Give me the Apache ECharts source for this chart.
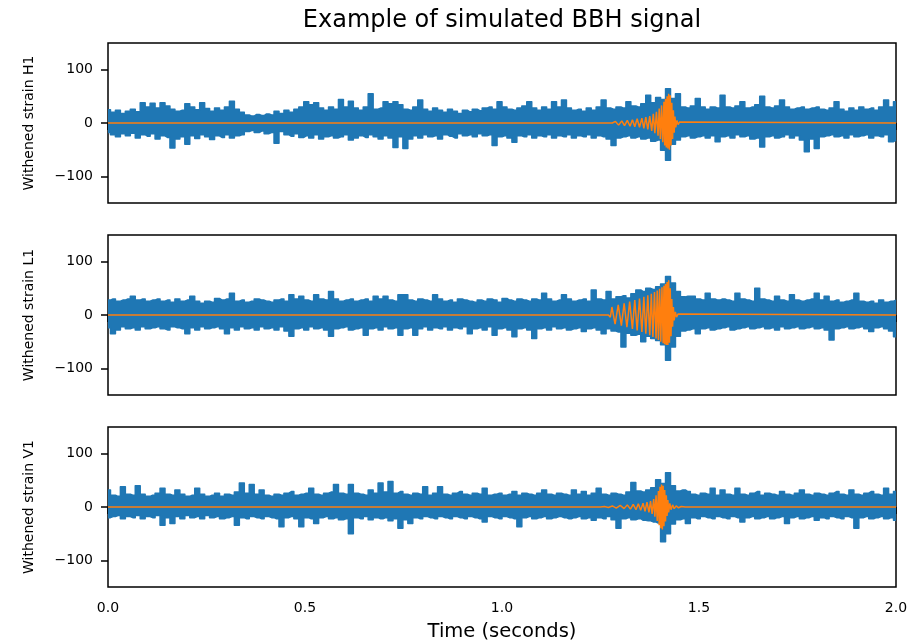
<!DOCTYPE html>
<html><head><meta charset="utf-8">
<script src="https://cdn.jsdelivr.net/npm/echarts@6/dist/echarts.min.js"></script>
<style>html,body{margin:0;padding:0;background:#fff}#c{width:918px;height:640px}</style>
</head><body><div id="c"></div>
<script>
// Detector names
const detectors = ['H1', 'L1', 'V1'];
// X tick values (seconds)
const xTicks = [0, 0.5, 1.0, 1.5, 2.0];
// Y tick values
const yTicks = [-100, 0, 100];

// Whitened strain (blue): per time bin, upper and lower excursion (alternating), bins evenly spaced over 0..2 s
const noiseH1 = [
25,-18, 20,-22, 24,-26, 18,-20, 22,-24, 26,-19, 21,-28, 38,-22, 30,-25, 37,-20,
28,-30, 38,-24, 32,-27, 26,-47, 22,-30, 24,-26, 36,-40, 30,-24, 25,-29, 38,-22,
27,-26, 22,-31, 28,-24, 24,-27, 30,-22, 41,-28, 26,-24, 20,-22, 15,-16, 13,-14,
16,-18, 14,-15, 17,-20, 15,-18, 22,-38, 18,-16, 24,-22, 20,-25, 26,-20, 30,-27,
40,-24, 34,-28, 38,-22, 28,-30, 24,-26, 30,-24, 26,-28, 44,-26, 30,-22, 41,-32,
28,-28, 24,-24, 30,-27, 55,-22, 26,-26, 28,-30, 40,-24, 36,-28, 40,-46, 34,-26,
26,-48, 24,-30, 30,-24, 43,-28, 26,-22, 22,-26, 28,-24, 24,-30, 20,-22, 26,-25,
22,-28, 18,-20, 24,-24, 21,-22, 26,-26, 23,-20, 28,-24, 30,-22, 26,-42, 40,-26,
30,-24, 26,-28, 24,-36, 28,-24, 32,-26, 40,-22, 28,-28, 24,-24, 30,-26, 26,-22,
40,-28, 30,-24, 43,-26, 28,-22, 24,-28, 26,-24, 22,-26, 28,-22, 24,-28, 30,-24,
43,-26, 28,-30, 26,-42, 30,-28, 28,-26, 40,-24, 32,-28, 30,-26, 36,-30, 52,-28,
38,-34, 48,-32, 44,-51, 64,-70, 46,-40, 55,-32, 30,-26, 28,-24, 32,-28, 46,-26,
30,-24, 26,-28, 30,-24, 28,-35, 52,-26, 30,-24, 28,-28, 32,-22, 40,-26, 28,-24,
30,-30, 34,-28, 50,-45, 30,-26, 28,-24, 32,-28, 43,-26, 30,-22, 26,-28, 28,-24,
30,-32, 26,-54, 28,-30, 30,-48, 26,-26, 24,-24, 28,-22, 40,-26, 26,-24, 22,-28,
28,-22, 24,-26, 30,-24, 26,-22, 28,-28, 24,-24, 30,-26, 43,-22, 30,-35, 40,-32
];
const noiseL1 = [
28,-24, 30,-35, 26,-28, 28,-22, 30,-26, 35,-24, 28,-28, 30,-22, 26,-26, 28,-24,
30,-22, 26,-26, 28,-28, 24,-22, 30,-24, 26,-26, 28,-35, 35,-24, 26,-28, 22,-22,
26,-26, 24,-24, 31,-22, 28,-26, 30,-35, 41,-24, 26,-28, 28,-22, 24,-26, 26,-24,
30,-28, 28,-22, 26,-26, 24,-24, 28,-28, 30,-22, 26,-30, 38,-40, 30,-26, 35,-24,
28,-28, 26,-22, 38,-26, 30,-24, 28,-28, 44,-40, 30,-26, 26,-24, 28,-22, 30,-28,
26,-26, 28,-24, 30,-38, 26,-26, 35,-24, 30,-28, 35,-22, 28,-26, 26,-24, 38,-38,
38,-26, 28,-24, 26,-38, 30,-26, 28,-22, 26,-28, 38,-24, 30,-26, 26,-22, 28,-28,
24,-24, 30,-26, 28,-22, 26,-35, 24,-26, 28,-24, 26,-28, 30,-22, 28,-38, 24,-26,
31,-24, 28,-28, 26,-41, 30,-26, 28,-24, 26,-28, 30,-44, 28,-26, 41,-24, 30,-28,
26,-22, 28,-26, 38,-24, 30,-28, 26,-26, 28,-24, 30,-31, 26,-26, 47,-24, 30,-28,
28,-35, 44,-26, 30,-30, 34,-32, 36,-60, 32,-34, 40,-38, 47,-36, 44,-50, 50,-40,
48,-44, 53,-48, 58,-56, 72,-85, 60,-60, 44,-40, 34,-30, 35,-28, 35,-26, 30,-35,
28,-26, 41,-24, 30,-28, 28,-26, 30,-24, 28,-22, 26,-28, 41,-26, 30,-24, 28,-22,
26,-26, 50,-24, 30,-22, 28,-26, 26,-24, 35,-28, 28,-22, 26,-26, 38,-24, 28,-22,
26,-26, 28,-24, 30,-22, 41,-26, 28,-24, 35,-28, 26,-47, 28,-26, 24,-24, 26,-22,
28,-26, 41,-24, 26,-22, 24,-26, 26,-31, 22,-24, 28,-22, 24,-26, 26,-30, 28,-41
];
const noiseV1 = [
32,-20, 22,-18, 20,-16, 38,-22, 24,-18, 22,-20, 40,-16, 24,-22, 20,-18, 22,-20,
26,-16, 35,-34, 24,-20, 22,-31, 32,-18, 24,-22, 20,-16, 22,-20, 35,-18, 24,-22,
20,-16, 22,-20, 26,-18, 20,-22, 24,-20, 22,-18, 28,-34, 45,-20, 26,-22, 42,-18,
24,-20, 32,-22, 22,-18, 20,-20, 24,-22, 22,-37, 26,-20, 29,-18, 22,-22, 24,-37,
26,-20, 35,-22, 24,-31, 22,-20, 26,-18, 28,-22, 42,-20, 26,-24, 24,-22, 42,-50,
26,-20, 24,-22, 22,-18, 32,-24, 26,-20, 45,-22, 28,-20, 48,-26, 26,-22, 29,-40,
24,-24, 22,-31, 26,-20, 24,-22, 38,-18, 22,-20, 26,-22, 38,-18, 24,-20, 22,-22,
26,-18, 29,-20, 24,-22, 22,-18, 26,-20, 24,-22, 35,-28, 22,-18, 24,-20, 26,-22,
22,-18, 24,-20, 29,-22, 22,-37, 26,-20, 24,-18, 22,-22, 26,-20, 32,-18, 24,-22,
22,-20, 26,-18, 24,-20, 22,-22, 32,-20, 24,-18, 29,-22, 22,-20, 26,-25, 35,-20,
24,-22, 22,-18, 26,-24, 24,-40, 22,-22, 28,-20, 46,-24, 30,-22, 28,-25, 32,-26,
36,-28, 51,-30, 44,-65, 64,-50, 40,-32, 30,-24, 32,-22, 29,-31, 24,-20, 22,-22,
26,-18, 24,-20, 35,-22, 22,-18, 32,-20, 24,-22, 22,-18, 35,-20, 24,-28, 22,-20,
26,-18, 29,-22, 22,-20, 26,-18, 24,-22, 22,-20, 29,-18, 24,-31, 22,-20, 26,-18,
32,-22, 24,-20, 22,-18, 26,-25, 24,-20, 22,-22, 26,-18, 29,-20, 24,-22, 22,-18,
32,-20, 24,-40, 22,-20, 26,-18, 29,-22, 24,-20, 22,-18, 35,-22, 24,-20, 29,-25
];

// Simulated signal (orange): times (s) and values at each extremum
const sigTimeH1 = [0, 1.28, 1.288, 1.296, 1.304, 1.311, 1.318, 1.325, 1.331, 1.337, 1.343, 1.349,
  1.355, 1.360, 1.365, 1.370, 1.375, 1.380, 1.384, 1.388, 1.392, 1.396,
  1.399, 1.402, 1.405, 1.408, 1.411, 1.413, 1.415, 1.417, 1.419, 1.421,
  1.423, 1.425, 1.427, 1.429, 1.431, 1.433, 1.435, 1.437, 1.439, 1.441,
  1.444, 1.447, 1.451, 1.455, 2];
const sigH1 = [0, 0, 3, -4, 4, -5, 5, -6, 6, -7, 8, -8,
  9, -10, 11, -12, 13, -15, 17, -19, 21, -24,
  27, -30, 33, -36, 40, -42, 45, -46, 50, -48,
  55, -50, 52, -42, 38, -30, 24, -18, 12, -8,
  5, -3, 2, 0, 0];
const sigTimeL1 = [0, 1.27, 1.275, 1.279, 1.287, 1.295, 1.303, 1.310, 1.317, 1.324, 1.331, 1.337,
  1.343, 1.349, 1.355, 1.360, 1.365, 1.370, 1.375, 1.379, 1.383, 1.387,
  1.391, 1.394, 1.397, 1.400, 1.403, 1.406, 1.409, 1.411, 1.413, 1.415,
  1.417, 1.419, 1.421, 1.423, 1.425, 1.427, 1.429, 1.431, 1.433, 1.435,
  1.437, 1.440, 1.443, 1.447, 1.452, 2];
const sigL1 = [0, 0, -4, 15, -17, 19, -20, 22, -23, 25, -26, 28,
  -29, 31, -32, 34, -35, 37, -38, 40, -41, 43,
  -44, 46, -47, 49, -50, 52, -53, 55, -55, 58,
  -56, 62, -56, 65, -52, 50, -40, 30, -22, 15,
  -10, 6, -4, 2, 0, 0];
const sigTimeV1 = [0, 1.25, 1.26, 1.27, 1.28, 1.29, 1.30, 1.31, 1.318, 1.326, 1.333, 1.340,
  1.346, 1.352, 1.358, 1.363, 1.368, 1.373, 1.377, 1.381, 1.385, 1.388,
  1.391, 1.394, 1.397, 1.399, 1.401, 1.403, 1.405, 1.407, 1.409, 1.411,
  1.413, 1.415, 1.417, 1.419, 1.421, 1.423, 1.426, 1.429, 1.433, 1.437,
  1.442, 1.448, 1.455, 1.465, 2];
const sigV1 = [0, 0, 1, -1, 2, -2, 3, -3, 4, -4, 5, -5,
  6, -6, 7, -8, 9, -10, 11, -13, 15, -18,
  22, -26, 30, -34, 38, -40, 42, -42, 40, -36,
  32, -27, 22, -17, 13, -10, 7, -5, 4, -3,
  2, -1.5, 1, 0, 0];

const noise = [noiseH1, noiseL1, noiseV1];
const sigTimes = [sigTimeH1, sigTimeL1, sigTimeV1];
const sigs = [sigH1, sigL1, sigV1];

const BLUE = '#1f77b4', ORANGE = '#ff7f0e';
const FONT = 'DejaVu Sans';
const tops = [43, 235, 427];
const grids = tops.map(t => ({left: 108, top: t, width: 788, height: 160, show: true,
  outerBoundsMode: 'none', containLabel: false,
  borderColor: '#000', borderWidth: 1.5, backgroundColor: 'transparent'}));

const xAxes = tops.map((t, i) => ({
  type: 'value', gridIndex: i, min: 0, max: 2, interval: 0.5,
  axisLine: {show: false},
  axisTick: {show: true, length: 7, lineStyle: {color: '#000', width: 1.5}},
  axisLabel: {show: i === 2, formatter: v => v.toFixed(1), fontSize: 14, color: '#000',
    margin: 14, fontFamily: FONT},
  splitLine: {show: false},
  name: i === 2 ? 'Time (seconds)' : '',
  nameLocation: 'middle', nameGap: 35,
  nameTextStyle: {fontSize: 19.5, color: '#000', fontFamily: FONT}
}));

const yAxes = detectors.map((d, i) => ({
  type: 'value', gridIndex: i, min: -150, max: 150,
  axisLine: {show: false},
  axisTick: {show: true, customValues: yTicks, length: 7, lineStyle: {color: '#000', width: 1.5}},
  axisLabel: {customValues: yTicks, formatter: v => v < 0 ? '\u2212' + (-v) : String(v),
    fontSize: 14, color: '#000', margin: 15, fontFamily: FONT},
  splitLine: {show: false},
  name: 'Withened strain ' + d, nameLocation: 'middle', nameGap: 72, nameRotate: 90,
  nameTextStyle: {fontSize: 14, color: '#000', fontFamily: FONT}
}));

const series = [];
detectors.forEach((d, i) => {
  const arr = noise[i];
  const up = arr.filter((_, j) => j % 2 === 0);
  const lo = arr.filter((_, j) => j % 2 === 1);
  const tk = k => k * 2 / (up.length - 1);
  [up, lo].forEach(env => {
    series.push({
      type: 'line', xAxisIndex: i, yAxisIndex: i, symbol: 'none', silent: true, z: 2,
      step: 'middle',
      data: env.map((v, k) => [tk(k), v]),
      lineStyle: {color: BLUE, width: 1.5, join: 'round'},
      areaStyle: {color: BLUE, opacity: 1, origin: 0}
    });
  });
  series.push({
    type: 'line', xAxisIndex: i, yAxisIndex: i, symbol: 'none', silent: true, z: 3,
    data: sigTimes[i].map((t, j) => [t, sigs[i][j]]),
    lineStyle: {color: ORANGE, width: 1.5}
  });
});

const chart = echarts.init(document.getElementById('c'), null, {renderer: 'canvas'});
chart.setOption({
  animation: false,
  backgroundColor: '#fff',
  grid: grids, xAxis: xAxes, yAxis: yAxes, series: series,
  graphic: [{type: 'text', style: {text: 'Example of simulated BBH signal', x: 502, y: 21,
    align: 'center', verticalAlign: 'middle', fontSize: 24, fontFamily: FONT, fill: '#000'}}]
});
</script></body></html>
